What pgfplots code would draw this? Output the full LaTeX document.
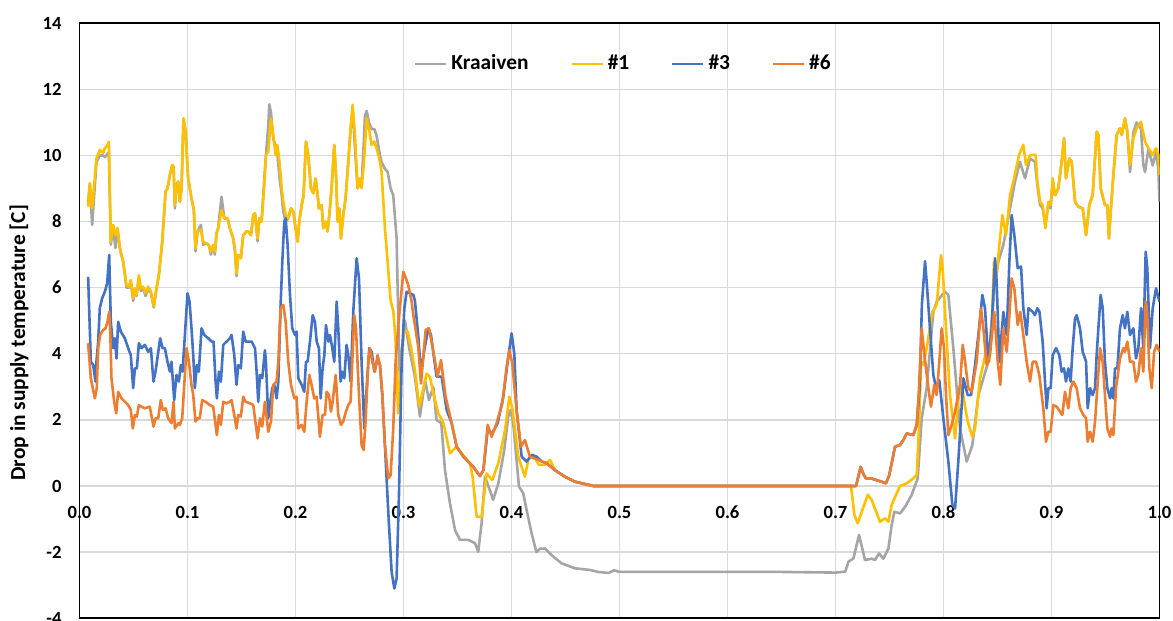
\documentclass[border=0pt]{standalone}
\usepackage{fontspec}
\setmainfont{Carlito}
\usepackage{pgfplots}
\pgfplotsset{compat=1.18}
\definecolor{cKra}{HTML}{A5A5A5}
\definecolor{cOne}{HTML}{FFC000}
\definecolor{cThree}{HTML}{4472C4}
\definecolor{cSix}{HTML}{ED7D31}
\definecolor{cGrid}{HTML}{D9D9D9}
\begin{document}
\begin{tikzpicture}
\begin{axis}[
  name=ax,
  scale only axis,
  width=540pt, height=297.45pt,
  xmin=0, xmax=1, ymin=-4, ymax=14,
  xtick={0,0.1,0.2,0.3,0.4,0.5,0.6,0.7,0.8,0.9,1},
  xticklabels={0.0,0.1,0.2,0.3,0.4,0.5,0.6,0.7,0.8,0.9,1.0},
  ytick={-4,-2,0,2,4,6,8,10,12,14},
  yticklabels={-4,-2,0,2,4,6,8,10,12,14},
  major tick length=0pt,
  xmajorgrids, ymajorgrids,
  major grid style={cGrid, line width=0.65pt},
  axis line style={black, line width=0.85pt},
  ticklabel style={font=\bfseries\fontsize{9.3}{11}\selectfont, text=black},
  xticklabel style={yshift=59.6pt},
  yticklabel style={xshift=-5.5pt},
  ylabel={Drop in supply temperature [C]},
  every axis y label/.style={at={(axis description cs:-0.056,0.463)}, rotate=90, anchor=center, font=\bfseries\fontsize{10.7}{12}\selectfont},
  legend columns=4,
  legend style={at={(axis description cs:0.5037,0.9316)}, anchor=center, draw=none, fill=none,
    font=\bfseries\fontsize{10.7}{12}\selectfont,
    /tikz/every odd column/.append style={column sep=1pt},
    /tikz/every even column/.append style={column sep=20pt},
    nodes={inner sep=1pt}},
  legend image code/.code={\draw[#1, line width=1.1pt] (0pt,0pt) -- (15.5pt,0pt);},
  every axis plot/.append style={line width=1.3pt, line join=round},
]
% Kraaiven
\addplot[cKra] coordinates {
(0.0080,8.6)(0.0096,9.16)(0.0117,7.90)(0.0157,9.80)(0.0188,10.00)(0.0219,10.00)(0.0235,9.95)(0.0259,10.05)(0.0272,10.10)
(0.0290,7.30)(0.0312,7.80)(0.0333,7.20)(0.0352,7.80)(0.0374,7.19)(0.0404,6.79)(0.0435,6.00)(0.0457,6.00)(0.0475,6.20)
(0.0497,5.60)(0.0513,5.95)(0.0528,5.75)(0.0550,6.30)(0.0568,5.90)(0.0590,6.00)(0.0611,5.75)(0.0636,5.95)(0.0661,5.85)
(0.0688,5.40)(0.0713,5.98)(0.0735,6.38)(0.0766,7.39)(0.0797,8.91)(0.0815,9.01)(0.0837,9.41)(0.0858,9.71)(0.0871,9.66)
(0.0883,8.40)(0.0898,9.11)(0.0914,9.21)(0.0929,8.60)(0.0945,9.01)(0.0963,11.12)(0.0982,10.72)(0.1006,9.31)(0.1037,8.70)
(0.1059,8.35)(0.1074,7.10)(0.1093,7.70)(0.1124,7.90)(0.1145,7.30)(0.1176,7.34)(0.1198,7.29)(0.1216,7.00)(0.1238,7.29)
(0.1253,7.00)(0.1269,7.65)(0.1284,7.80)(0.1315,8.75)(0.1340,8.10)(0.1371,8.10)(0.1392,7.80)(0.1423,7.49)(0.1439,7.10)
(0.1454,6.35)(0.1470,6.99)(0.1494,6.89)(0.1516,7.59)(0.1547,7.70)(0.1563,7.70)(0.1588,7.59)(0.1609,8.20)(0.1625,8.25)
(0.1649,7.40)(0.1665,8.10)(0.1686,8.00)(0.1711,9.30)(0.1726,10.00)(0.1748,10.90)(0.1757,11.55)(0.1773,11.30)(0.1794,10.50)
(0.1816,10.30)(0.1831,10.10)(0.1850,9.40)(0.1872,8.80)(0.1887,8.30)(0.1909,8.00)(0.1933,8.10)(0.1958,8.40)(0.1980,8.30)
(0.2001,7.80)(0.2020,7.39)(0.2035,8.00)(0.2057,8.50)(0.2075,8.80)(0.2097,10.42)(0.2118,10.01)(0.2143,9.01)(0.2165,8.86)
(0.2186,9.31)(0.2205,8.80)(0.2217,8.40)(0.2242,8.50)(0.2257,7.80)(0.2279,8.00)(0.2297,7.70)(0.2316,8.30)(0.2334,9.01)
(0.2359,10.32)(0.2375,9.41)(0.2390,8.00)(0.2405,8.40)(0.2421,7.49)(0.2442,8.20)(0.2464,8.70)(0.2489,9.81)(0.2513,10.92)
(0.2529,11.40)(0.2551,10.20)(0.2575,9.00)(0.2597,9.20)(0.2612,9.10)(0.2634,10.50)(0.2643,11.20)(0.2659,11.35)(0.2680,11.00)
(0.2705,10.80)(0.2730,10.80)(0.2751,10.60)(0.2782,10.00)(0.2797,9.80)(0.2828,9.60)(0.2853,9.50)(0.2881,9.00)(0.2905,8.80)
(0.2936,7.50)(0.2952,5.00)(0.2967,3.00)(0.2983,4.00)(0.3014,5.00)(0.3051,4.20)(0.3075,3.80)(0.3106,3.30)(0.3152,2.10)
(0.3200,3.20)(0.3236,2.60)(0.3276,3.00)(0.3306,2.00)(0.3350,1.90)(0.3384,0.48)(0.3430,-0.52)(0.3477,-1.33)(0.3523,-1.63)
(0.3600,-1.63)(0.3662,-1.73)(0.3692,-1.99)(0.3723,-1.13)(0.3754,0.28)(0.3810,-0.22)(0.3830,-0.42)(0.3878,0.08)(0.3933,1.09)
(0.3970,2.10)(0.3992,2.30)(0.4016,1.90)(0.4047,0.79)(0.4069,-0.02)(0.4109,-0.22)(0.4140,-0.73)(0.4186,-1.43)(0.4230,-2.00)
(0.4263,-1.90)(0.4310,-1.89)(0.4371,-2.09)(0.4464,-2.34)(0.4587,-2.49)(0.4726,-2.54)(0.4800,-2.60)(0.4900,-2.63)(0.4950,-2.55)
(0.5000,-2.60)(0.5500,-2.60)(0.6000,-2.60)(0.6500,-2.60)(0.7000,-2.62)(0.7090,-2.59)(0.7120,-2.29)(0.7166,-2.19)(0.7218,-1.48)
(0.7273,-2.24)(0.7335,-2.20)(0.7366,-2.24)(0.7403,-2.04)(0.7443,-2.20)(0.7490,-1.89)(0.7520,-1.18)(0.7545,-0.78)(0.7598,-0.83)
(0.7650,-0.60)(0.7705,-0.27)(0.7761,0.23)(0.7798,2.05)(0.7844,2.96)(0.7906,5.27)(0.7937,5.58)(0.8014,5.88)(0.8045,5.78)
(0.8091,4.17)(0.8153,1.74)(0.8215,0.74)(0.8267,1.24)(0.8323,2.75)(0.8360,3.16)(0.8415,3.76)(0.8477,6.18)(0.8508,6.79)
(0.8554,7.29)(0.8616,8.40)(0.8662,9.21)(0.8708,9.81)(0.8755,9.31)(0.8801,9.91)(0.8847,9.81)(0.8869,9.10)(0.8894,8.50)
(0.8918,8.40)(0.8943,7.90)(0.8971,8.50)(0.8992,8.40)(0.9011,9.20)(0.9032,8.80)(0.9063,9.01)(0.9094,9.81)(0.9116,10.52)
(0.9134,9.31)(0.9165,9.91)(0.9187,9.81)(0.9218,8.60)(0.9248,8.45)(0.9289,8.40)(0.9320,7.59)(0.9350,8.50)(0.9381,8.80)
(0.9418,10.72)(0.9434,10.62)(0.9455,9.01)(0.9495,8.50)(0.9517,8.50)(0.9532,7.49)(0.9548,8.30)(0.9573,9.41)(0.9603,10.62)
(0.9634,10.82)(0.9650,10.62)(0.9680,11.12)(0.9702,10.72)(0.9727,9.50)(0.9758,10.70)(0.9788,11.00)(0.9810,10.90)(0.9829,10.80)
(0.9850,9.70)(0.9866,9.50)(0.9897,10.20)(0.9937,9.70)(0.9968,10.10)(0.9989,9.60)(1.0000,8.60)
};
\addlegendentry{Kraaiven}
% #1
\addplot[cOne] coordinates {
(0.0080,8.45)(0.0096,9.16)(0.0117,8.40)(0.0157,9.91)(0.0188,10.17)(0.0219,10.07)(0.0235,10.22)(0.0259,10.32)(0.0272,10.42)
(0.0290,7.39)(0.0312,7.90)(0.0333,7.59)(0.0352,7.80)(0.0374,7.19)(0.0404,6.79)(0.0435,6.08)(0.0457,6.03)(0.0475,6.23)
(0.0497,5.68)(0.0513,5.98)(0.0528,5.78)(0.0550,6.38)(0.0568,5.98)(0.0590,6.03)(0.0611,5.83)(0.0636,6.03)(0.0661,5.88)
(0.0688,5.43)(0.0713,5.98)(0.0735,6.38)(0.0766,7.39)(0.0797,8.91)(0.0815,9.01)(0.0837,9.41)(0.0858,9.71)(0.0871,9.66)
(0.0883,8.50)(0.0898,9.11)(0.0914,9.21)(0.0929,8.60)(0.0945,9.01)(0.0963,11.12)(0.0982,10.72)(0.1006,9.31)(0.1037,8.70)
(0.1059,8.35)(0.1074,7.19)(0.1093,7.70)(0.1124,7.75)(0.1145,7.39)(0.1176,7.34)(0.1198,7.29)(0.1216,7.09)(0.1238,7.29)
(0.1253,7.09)(0.1269,7.65)(0.1284,7.80)(0.1315,8.35)(0.1340,8.10)(0.1371,8.10)(0.1392,7.80)(0.1423,7.49)(0.1439,7.19)
(0.1454,6.43)(0.1470,6.99)(0.1494,6.89)(0.1516,7.59)(0.1547,7.70)(0.1563,7.70)(0.1588,7.59)(0.1609,8.20)(0.1625,8.25)
(0.1649,7.49)(0.1665,8.10)(0.1686,8.00)(0.1711,9.11)(0.1726,10.01)(0.1748,10.12)(0.1773,11.12)(0.1794,10.62)(0.1816,10.01)
(0.1831,10.32)(0.1850,9.86)(0.1872,9.01)(0.1887,8.60)(0.1909,8.20)(0.1933,8.10)(0.1958,8.40)(0.1980,8.30)(0.2001,7.80)
(0.2020,7.39)(0.2035,8.00)(0.2057,8.50)(0.2075,8.80)(0.2097,10.42)(0.2118,10.01)(0.2143,9.01)(0.2165,8.86)(0.2186,9.31)
(0.2205,8.80)(0.2217,8.40)(0.2242,8.50)(0.2257,7.80)(0.2279,8.00)(0.2297,7.70)(0.2316,8.30)(0.2334,9.01)(0.2359,10.32)
(0.2375,9.41)(0.2390,8.00)(0.2405,8.40)(0.2421,7.49)(0.2442,8.20)(0.2464,8.70)(0.2489,9.81)(0.2513,10.92)(0.2529,11.53)
(0.2551,10.62)(0.2575,9.01)(0.2597,9.31)(0.2612,9.01)(0.2634,9.81)(0.2659,11.12)(0.2680,10.82)(0.2705,10.32)(0.2730,10.42)
(0.2751,10.22)(0.2782,9.81)(0.2797,9.51)(0.2828,7.80)(0.2853,6.79)(0.2881,5.60)(0.2905,5.30)(0.2925,4.50)(0.2950,2.20)
(0.2975,3.50)(0.3004,4.70)(0.3040,4.67)(0.3075,4.10)(0.3106,3.50)(0.3146,2.40)(0.3214,3.40)(0.3245,3.30)(0.3276,2.80)
(0.3322,2.20)(0.3370,1.90)(0.3430,0.99)(0.3492,1.19)(0.3560,0.90)(0.3615,0.69)(0.3640,0.28)(0.3677,-0.93)(0.3723,-0.93)
(0.3770,0.38)(0.3822,0.18)(0.3878,0.69)(0.3940,1.69)(0.3980,2.70)(0.4010,2.30)(0.4063,0.89)(0.4124,0.28)(0.4155,0.79)
(0.4200,0.94)(0.4254,0.64)(0.4310,0.64)(0.4356,0.79)(0.4402,0.48)(0.4495,0.28)(0.4587,0.13)(0.4680,0.06)(0.4760,0.00)
(0.7144,0.00)(0.7175,-0.88)(0.7206,-1.13)(0.7243,-0.78)(0.7298,-0.27)(0.7335,-0.42)(0.7412,-1.08)(0.7459,-0.98)(0.7490,-1.08)
(0.7520,-0.57)(0.7567,-0.22)(0.7597,0.00)(0.7659,0.08)(0.7721,0.23)(0.7752,0.33)(0.7773,1.74)(0.7792,3.76)(0.7813,3.66)
(0.7844,4.17)(0.7897,5.27)(0.7937,5.48)(0.7977,6.99)(0.7992,6.59)(0.8023,4.77)(0.8060,2.75)(0.8107,1.44)(0.8137,2.60)
(0.8168,3.06)(0.8200,2.40)(0.8224,1.95)(0.8267,1.49)(0.8292,1.74)(0.8338,3.26)(0.8360,3.56)(0.8400,4.17)(0.8424,3.76)
(0.8446,4.77)(0.8468,6.79)(0.8492,6.38)(0.8523,7.49)(0.8545,8.20)(0.8579,7.59)(0.8616,8.80)(0.8647,9.21)(0.8699,10.01)
(0.8739,10.32)(0.8764,9.71)(0.8801,10.01)(0.8832,10.02)(0.8853,10.02)(0.8869,9.21)(0.8894,8.60)(0.8918,8.50)(0.8943,7.80)
(0.8971,8.60)(0.8992,8.50)(0.9011,9.31)(0.9032,8.80)(0.9063,9.01)(0.9094,9.81)(0.9116,10.52)(0.9134,9.31)(0.9165,9.91)
(0.9187,9.81)(0.9218,8.60)(0.9248,8.45)(0.9289,8.40)(0.9320,7.59)(0.9350,8.50)(0.9381,8.80)(0.9418,10.72)(0.9434,10.62)
(0.9455,9.01)(0.9495,8.50)(0.9517,8.50)(0.9532,7.49)(0.9548,8.30)(0.9573,9.41)(0.9603,10.62)(0.9634,10.82)(0.9650,10.62)
(0.9680,11.12)(0.9702,10.72)(0.9727,9.71)(0.9758,10.52)(0.9788,10.82)(0.9829,11.02)(0.9866,10.42)(0.9897,10.22)(0.9937,10.02)
(0.9968,10.22)(0.9989,10.02)(1.0000,9.41)
};
\addlegendentry{\#1}
% #3
\addplot[cThree] coordinates {
(0.0080,6.33)(0.0105,3.76)(0.0127,3.66)(0.0148,3.16)(0.0157,3.76)(0.0173,4.37)(0.0188,5.38)(0.0210,5.68)(0.0235,5.88)
(0.0256,6.13)(0.0275,6.99)(0.0290,4.97)(0.0312,4.17)(0.0327,4.47)(0.0343,3.86)(0.0358,4.97)(0.0383,4.67)(0.0420,4.47)
(0.0451,4.17)(0.0475,3.96)(0.0497,2.96)(0.0513,3.56)(0.0531,3.56)(0.0550,4.32)(0.0574,4.17)(0.0605,4.27)(0.0636,4.06)
(0.0661,4.17)(0.0685,3.16)(0.0704,3.46)(0.0747,4.47)(0.0769,4.17)(0.0790,4.17)(0.0815,3.76)(0.0837,3.46)(0.0852,3.76)
(0.0877,2.60)(0.0898,3.36)(0.0920,3.16)(0.0938,3.66)(0.0954,3.46)(0.0976,4.57)(0.1000,5.83)(0.1019,5.58)(0.1037,4.77)
(0.1053,3.96)(0.1068,2.96)(0.1087,3.66)(0.1105,3.46)(0.1130,4.77)(0.1155,4.57)(0.1192,4.47)(0.1222,4.37)(0.1241,4.37)
(0.1260,3.16)(0.1272,2.65)(0.1291,3.46)(0.1309,3.16)(0.1331,4.27)(0.1362,4.37)(0.1392,4.47)(0.1408,4.57)(0.1433,3.96)
(0.1454,3.06)(0.1470,3.66)(0.1494,3.56)(0.1516,4.67)(0.1538,4.37)(0.1594,4.37)(0.1625,4.17)(0.1640,3.46)(0.1655,2.55)
(0.1671,3.36)(0.1692,3.26)(0.1717,4.11)(0.1726,3.76)(0.1748,2.05)(0.1763,2.45)(0.1785,2.96)(0.1804,3.06)(0.1825,2.65)
(0.1841,3.16)(0.1862,5.48)(0.1878,6.79)(0.1896,8.00)(0.1909,8.10)(0.1927,7.29)(0.1949,5.78)(0.1970,4.77)(0.1995,4.57)
(0.2010,4.67)(0.2026,3.26)(0.2057,3.06)(0.2081,2.85)(0.2097,3.76)(0.2112,3.76)(0.2134,4.37)(0.2159,5.17)(0.2180,4.97)
(0.2196,4.37)(0.2217,4.17)(0.2233,2.65)(0.2251,3.56)(0.2267,3.96)(0.2282,4.87)(0.2304,4.37)(0.2319,4.57)(0.2341,4.17)
(0.2359,3.76)(0.2381,5.58)(0.2396,4.77)(0.2418,3.16)(0.2433,3.46)(0.2452,3.26)(0.2473,4.27)(0.2489,3.96)(0.2510,3.16)
(0.2535,5.27)(0.2566,6.89)(0.2588,6.28)(0.2612,3.76)(0.2637,1.74)(0.2659,2.96)(0.2683,4.17)(0.2705,4.06)(0.2730,3.46)
(0.2760,3.86)(0.2782,3.66)(0.2804,2.75)(0.2828,1.24)(0.2859,-0.78)(0.2890,-2.60)(0.2915,-3.10)(0.2936,-2.80)(0.2958,-0.27)
(0.2983,3.76)(0.3008,5.38)(0.3029,5.88)(0.3060,5.83)(0.3091,5.78)(0.3106,5.60)(0.3137,4.52)(0.3162,3.40)(0.3192,4.11)
(0.3230,4.77)(0.3254,4.57)(0.3306,3.31)(0.3353,3.31)(0.3400,2.30)(0.3446,1.90)(0.3492,1.19)(0.3554,0.89)(0.3646,0.58)
(0.3708,0.30)(0.3740,0.48)(0.3779,1.69)(0.3822,1.59)(0.3872,1.90)(0.3924,2.70)(0.3970,3.90)(0.4001,4.62)(0.4026,4.00)
(0.4047,2.30)(0.4094,0.89)(0.4140,0.74)(0.4186,0.94)(0.4232,0.89)(0.4279,0.74)(0.4325,0.69)(0.4402,0.48)(0.4495,0.28)
(0.4587,0.13)(0.4680,0.06)(0.4760,0.00)(0.7190,0.00)(0.7233,0.58)(0.7260,0.35)(0.7282,0.23)(0.7330,0.23)(0.7427,0.13)
(0.7467,0.08)(0.7498,0.33)(0.7551,1.19)(0.7597,1.24)(0.7628,1.39)(0.7659,1.59)(0.7720,1.54)(0.7752,1.85)
(0.7780,3.00)(0.7800,5.50)(0.7829,6.80)(0.7844,6.18)(0.7875,4.77)
(0.7906,3.36)(0.7931,2.96)(0.7961,3.20)(0.8000,2.00)(0.8045,0.74)(0.8082,-0.57)(0.8107,-0.68)(0.8137,0.74)(0.8184,3.26)
(0.8224,2.75)(0.8255,2.75)(0.8290,3.60)(0.8329,4.77)(0.8360,5.78)(0.8384,5.38)(0.8415,3.76)(0.8446,4.77)(0.8477,6.89)
(0.8492,6.18)(0.8517,3.76)(0.8554,5.27)(0.8585,4.57)(0.8610,6.79)(0.8631,8.20)(0.8656,7.59)(0.8687,6.59)(0.8718,6.64)
(0.8739,5.38)(0.8770,4.57)(0.8786,5.38)(0.8826,5.27)(0.8847,5.17)(0.8869,5.38)(0.8888,5.28)(0.8918,4.37)(0.8940,3.16)
(0.8955,2.35)(0.8971,2.96)(0.8992,2.96)(0.9011,3.96)(0.9042,4.17)(0.9072,3.96)(0.9094,3.46)(0.9116,3.56)(0.9134,3.16)
(0.9156,3.56)(0.9177,3.16)(0.9196,4.17)(0.9218,5.07)(0.9233,5.17)(0.9264,4.77)(0.9289,4.06)(0.9320,3.76)(0.9335,2.35)
(0.9357,2.96)(0.9381,2.75)(0.9403,2.96)(0.9418,3.96)(0.9434,4.77)(0.9455,5.78)(0.9474,5.38)(0.9495,3.76)(0.9517,2.96)
(0.9542,2.65)(0.9557,2.96)(0.9573,2.65)(0.9588,3.56)(0.9610,3.56)(0.9634,4.77)(0.9659,5.17)(0.9680,4.77)(0.9702,5.27)
(0.9727,4.57)(0.9758,4.77)(0.9782,3.86)(0.9804,4.17)(0.9829,5.38)(0.9850,4.17)(0.9872,7.09)(0.9887,6.59)(0.9912,4.17)
(0.9937,5.38)(0.9968,5.98)(1.0000,5.58)
};
\addlegendentry{\#3}
% #6
\addplot[cSix] coordinates {
(0.0080,4.32)(0.0105,3.26)(0.0117,3.06)(0.0142,2.65)(0.0160,2.96)(0.0173,4.17)(0.0191,4.57)(0.0219,4.72)(0.0241,4.77)
(0.0259,4.97)(0.0275,5.27)(0.0284,4.77)(0.0296,3.26)(0.0321,2.55)(0.0340,2.20)(0.0358,2.85)(0.0389,2.65)(0.0420,2.55)
(0.0451,2.45)(0.0475,2.30)(0.0494,1.74)(0.0513,2.15)(0.0531,2.10)(0.0550,2.45)(0.0574,2.40)(0.0605,2.35)(0.0651,2.40)
(0.0685,1.80)(0.0704,2.05)(0.0729,2.05)(0.0753,2.60)(0.0772,2.30)(0.0797,2.35)(0.0821,2.05)(0.0852,1.90)(0.0871,2.55)
(0.0883,1.74)(0.0914,1.90)(0.0929,1.85)(0.0951,2.05)(0.0970,3.06)(0.0991,4.17)(0.1013,3.76)(0.1037,3.06)(0.1053,2.75)
(0.1074,1.95)(0.1093,2.05)(0.1114,2.05)(0.1136,2.60)(0.1167,2.55)(0.1207,2.45)(0.1238,2.40)(0.1260,1.85)(0.1272,1.54)
(0.1291,2.15)(0.1309,1.85)(0.1331,2.55)(0.1362,2.50)(0.1392,2.55)(0.1408,2.60)(0.1433,2.15)(0.1454,1.74)(0.1470,2.15)
(0.1494,2.10)(0.1516,2.70)(0.1538,2.55)(0.1578,2.50)(0.1609,2.45)(0.1649,1.44)(0.1671,2.05)(0.1692,1.80)(0.1717,2.55)
(0.1748,1.64)(0.1773,1.95)(0.1794,3.06)(0.1825,3.16)(0.1841,3.76)(0.1862,5.38)(0.1887,5.48)(0.1909,4.97)(0.1933,3.76)
(0.1958,3.06)(0.1989,2.65)(0.2010,2.70)(0.2026,1.74)(0.2057,1.85)(0.2081,1.64)(0.2103,2.55)(0.2128,3.36)(0.2149,3.06)
(0.2174,2.65)(0.2196,2.70)(0.2226,1.49)(0.2251,2.15)(0.2273,2.15)(0.2288,2.85)(0.2310,2.75)(0.2328,2.25)(0.2344,2.55)
(0.2372,3.36)(0.2396,2.15)(0.2421,1.85)(0.2442,1.95)(0.2467,2.25)(0.2489,2.45)(0.2510,2.55)(0.2544,5.17)(0.2560,4.77)
(0.2588,2.75)(0.2612,1.24)(0.2631,1.09)(0.2649,1.95)(0.2674,3.76)(0.2689,4.17)(0.2711,3.76)(0.2736,3.46)(0.2760,3.96)
(0.2782,3.66)(0.2804,2.75)(0.2828,1.24)(0.2859,0.23)(0.2881,0.33)(0.2905,1.74)(0.2927,3.76)(0.2952,4.87)(0.2998,6.48)
(0.3023,6.28)(0.3044,6.08)(0.3075,5.58)(0.3090,5.20)(0.3137,4.20)(0.3162,3.10)(0.3205,4.72)(0.3236,4.77)(0.3280,4.00)
(0.3316,3.31)(0.3347,3.81)(0.3390,2.70)(0.3446,1.90)(0.3492,1.19)(0.3554,0.89)(0.3646,0.58)(0.3708,0.30)(0.3740,0.48)
(0.3780,1.85)(0.3816,1.49)(0.3862,1.90)(0.3915,2.50)(0.3955,3.61)(0.3980,4.11)(0.4007,3.71)(0.4047,2.30)(0.4087,1.19)
(0.4124,1.39)(0.4170,0.89)(0.4248,0.79)(0.4325,0.69)(0.4402,0.48)(0.4495,0.28)(0.4587,0.13)(0.4680,0.06)(0.4760,0.00)
(0.7190,0.00)(0.7233,0.58)(0.7260,0.35)(0.7282,0.23)(0.7330,0.23)(0.7427,0.13)(0.7467,0.08)(0.7498,0.33)(0.7551,1.19)
(0.7597,1.24)(0.7628,1.39)(0.7659,1.59)(0.7720,1.54)(0.7752,1.85)(0.7773,2.96)(0.7798,4.77)(0.7823,3.96)(0.7860,2.96)
(0.7884,2.40)(0.7915,3.06)(0.7937,2.75)(0.7961,3.76)(0.7983,4.77)(0.8005,4.17)(0.8023,2.75)(0.8045,1.54)(0.8076,1.85)
(0.8107,2.25)(0.8153,3.06)(0.8178,4.27)(0.8200,3.76)(0.8230,2.96)(0.8261,2.85)(0.8307,3.76)(0.8347,5.38)(0.8369,4.77)
(0.8400,3.66)(0.8430,3.96)(0.8470,5.27)(0.8502,3.76)(0.8526,3.06)(0.8554,4.77)(0.8585,4.06)(0.8606,4.97)(0.8631,6.28)
(0.8656,5.98)(0.8687,4.87)(0.8710,5.27)(0.8739,4.57)(0.8770,3.76)(0.8801,3.16)(0.8826,3.76)(0.8857,3.76)(0.8887,3.36)
(0.8924,2.35)(0.8949,1.34)(0.8971,1.64)(0.8992,1.64)(0.9017,2.45)(0.9048,2.40)(0.9079,2.25)(0.9100,2.15)(0.9125,2.85)
(0.9156,2.35)(0.9177,2.96)(0.9202,3.16)(0.9233,2.96)(0.9264,2.35)(0.9295,2.15)(0.9320,2.05)(0.9335,1.34)(0.9357,1.64)
(0.9381,1.34)(0.9403,1.95)(0.9424,2.96)(0.9450,4.17)(0.9474,3.76)(0.9495,2.75)(0.9517,1.74)(0.9542,1.49)(0.9557,1.74)
(0.9573,1.54)(0.9597,2.96)(0.9610,3.26)(0.9634,3.86)(0.9665,4.17)(0.9680,4.06)(0.9702,4.37)(0.9727,3.76)(0.9758,3.76)
(0.9782,3.16)(0.9804,3.36)(0.9829,4.17)(0.9850,3.46)(0.9872,5.58)(0.9887,5.17)(0.9906,3.56)(0.9928,2.96)(0.9950,4.06)
(0.9974,4.27)(1.0000,4.06)
};
\addlegendentry{\#6}
\end{axis}
\pgfresetboundingbox
\path[use as bounding box] ([shift={(-39.75pt,-1.4pt)}]ax.south west) rectangle ([shift={(6.75pt,11.65pt)}]ax.north east);
\end{tikzpicture}
\end{document}
